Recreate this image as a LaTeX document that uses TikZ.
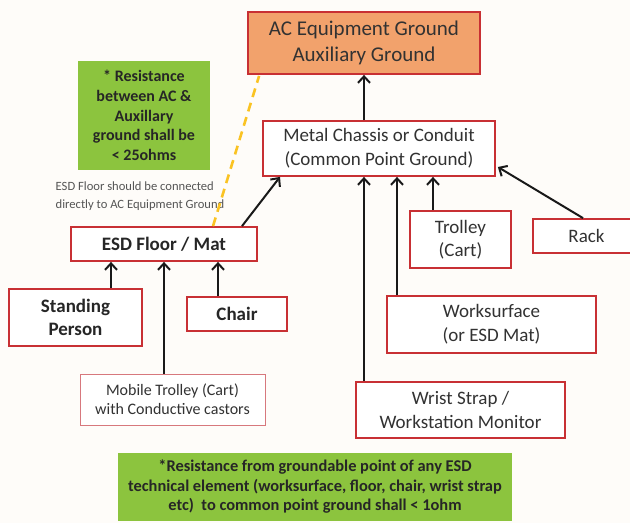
\documentclass[tikz,border=0pt]{standalone}
\usepackage{fontspec}
\setmainfont{Carlito}
\usetikzlibrary{arrows.meta,calc}
\definecolor{boxred}{RGB}{200,48,52}
\definecolor{lightred}{RGB}{215,120,125}
\definecolor{noteg}{RGB}{140,196,62}
\definecolor{acor}{RGB}{242,162,108}
\definecolor{bgc}{RGB}{254,252,249}
\definecolor{dashy}{RGB}{250,195,35}
\definecolor{txt}{RGB}{50,50,50}
\definecolor{smalltxt}{RGB}{85,85,85}
\begin{document}
\begin{tikzpicture}[x=1pt,y=-1pt,
  box/.style={draw=boxred,line width=1.8pt,fill=white,rectangle,inner sep=0pt,
    align=center,text=txt,font=\fontsize{19}{24}\selectfont},
  boldbox/.style={box,text=black!85,font=\bfseries\fontsize{19}{23}\selectfont},
  note/.style={fill=noteg,rectangle,inner sep=0pt,align=center,text=black!85},
  arr/.style={draw=black!90,line width=2pt,-{Straight Barb[length=6.5pt,width=12pt,line width=2pt]}},
  dashline/.style={draw=dashy,line width=2.6pt,dash pattern=on 9pt off 6pt}
]
\useasboundingbox (0,0) rectangle (630,523);
\fill[bgc] (0,0) rectangle (630,523);

% nodes
\node[box,fill=acor,minimum width=232pt,minimum height=62pt,
  font=\fontsize{21}{26}\selectfont] (ac) at (364,43) {AC Equipment Ground\\Auxiliary Ground};
\node[box,minimum width=232pt,minimum height=55pt] (metal) at (379,148.5)
  {Metal Chassis or Conduit\\(Common Point Ground)};
\node[note,minimum width=132pt,minimum height=109pt,
  font=\bfseries\fontsize{16}{19.7}\selectfont] (note1) at (144,115.5)
  {* Resistance\\between AC \&\\Auxillary\\ground shall be\\< 25ohms};
\node[align=left,inner sep=0pt,text=smalltxt,font=\fontsize{12.6}{18}\selectfont] (esdnote) at (140,196)
  {ESD Floor should be connected\\directly to AC Equipment Ground};
\node[boldbox,minimum width=186pt,minimum height=34pt] (esd) at (164,244) {ESD Floor / Mat};
\node[boldbox,minimum width=133pt,minimum height=57pt] (stand) at (75.5,317.5) {Standing\\Person};
\node[boldbox,minimum width=100pt,minimum height=34pt] (chair) at (237,314) {Chair};
\node[box,draw=lightred,line width=1pt,minimum width=185pt,minimum height=51pt,
  font=\fontsize{16}{19}\selectfont] (mobile) at (172.5,399.5)
  {Mobile Trolley (Cart)\\with Conductive castors};
\node[note,minimum width=394pt,minimum height=68pt,
  font=\bfseries\fontsize{16.4}{19.5}\selectfont] (note2) at (315,487)
  {*Resistance from groundable point of any ESD\\technical element (worksurface, floor, chair, wrist strap\\etc)\ \ to common point ground shall < 1ohm};
\node[box,minimum width=101pt,minimum height=57pt,font=\fontsize{19}{23}\selectfont] (trolley) at (460.5,239.5) {Trolley\\(Cart)};
\node[box,minimum width=107pt,minimum height=34pt] (rack) at (586.5,236) {Rack};
\node[box,minimum width=209pt,minimum height=57pt] (work) at (491.5,324.5) {Worksurface\\(or ESD Mat)};
\node[box,minimum width=209pt,minimum height=56pt] (wrist) at (460.5,410) {Wrist Strap /\\Workstation Monitor};

% connection points
\coordinate (m1) at ([xshift=-15pt]metal.north);
\coordinate (s1) at ([xshift=35.5pt]stand.north);
\coordinate (c1) at ([xshift=-19pt]chair.north);
\coordinate (mo1) at ([xshift=-8.5pt]mobile.north);
\coordinate (e1) at ([xshift=78pt]esd.north);
\coordinate (me1) at ([xshift=-99pt]metal.south);
\coordinate (t1) at ([xshift=-27.5pt]trolley.north);
\coordinate (w1) at ([xshift=-94.5pt]work.north);
\coordinate (ws1) at ([xshift=-96.5pt]wrist.north);
\coordinate (r1) at ([xshift=-3.5pt]rack.north);
\coordinate (me2) at ([xshift=2pt,yshift=-18.5pt]metal.east);
\coordinate (e2) at ([xshift=49pt]esd.north);
\coordinate (a2) at ([xshift=12pt,yshift=-1pt]ac.south west);

% connectors
\draw[dashline] (e2) -- (a2);
\draw[arr] (m1) -- (m1 |- ac.south);
\draw[arr] (s1) -- (s1 |- esd.south);
\draw[arr] (c1) -- (c1 |- esd.south);
\draw[arr] (mo1) -- (mo1 |- esd.south);
\draw[arr] (e1) -- (me1);
\draw[arr] (t1) -- (t1 |- metal.south);
\draw[arr] (w1) -- (w1 |- metal.south);
\draw[arr] (ws1) -- (ws1 |- metal.south);
\draw[arr] (r1) -- (me2);
\end{tikzpicture}
\end{document}
